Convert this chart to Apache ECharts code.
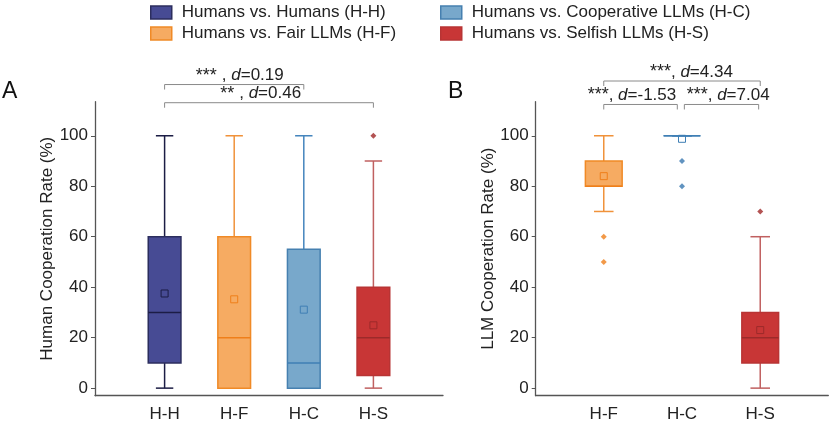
<!DOCTYPE html>
<html>
<head>
<meta charset="utf-8">
<script src="https://cdn.jsdelivr.net/npm/echarts@6/dist/echarts.min.js"></script>
<style>
  html, body { margin: 0; padding: 0; background: #fff; }
  #chart { width: 830px; height: 424px; }
</style>
</head>
<body>
<div id="chart"></div>
<script>
// panel A: human cooperation, panel B: LLM cooperation
const categoriesA = ["H-H", "H-F", "H-C", "H-S"];
const categoriesB = ["H-F", "H-C", "H-S"];
// [min, q1, median, q3, max, mean]
const statsA = [
  [0, 10, 30, 60, 100, 37.5],
  [0, 0, 20, 60, 100, 35.2],
  [0, 0, 10, 55, 100, 31.1],
  [0, 5, 20, 40, 90, 24.9],
];
const statsB = [
  [70, 80, 80, 90, 100, 84],
  [100, 100, 100, 100, 100, 98.8],
  [0, 10, 20, 30, 60, 23],
];
const outliersA = [[], [], [], [100]];
const outliersB = [[60, 50], [90, 80], [70]];
const yTicks = [0, 20, 40, 60, 80, 100];

// brackets: [from, to, y, labelX, stars, d]
const bracketsA = [
  [1, 3, 120.3, 2.08, "*** ", "0.19"],
  [1, 4, 113.1, 2.38, "** ", "0.46"],
];
const bracketsB = [
  [1, 3, 121.7, 2.12, "***", "4.34"],
  [1, 1.94, 112.4, 1.36, "***", "-1.53"],
  [2.03, 2.98, 112.4, 2.59, "***", "7.04"],
];

const FONT = "Liberation Sans, Arial, Helvetica, sans-serif";

const groups = {
  "H-H": { name: "Humans vs. Humans (H-H)", fill: "#474b94", border: "#2c2e5e", line: "#1c1d45", mid: "#1c1d45", dot: "#1c1d45" },
  "H-F": { name: "Humans vs. Fair LLMs (H-F)", fill: "#f6ab62", border: "#f08a26", line: "#f0923a", mid: "#ef7f1a", dot: "#ef7f1a" },
  "H-C": { name: "Humans vs. Cooperative LLMs (H-C)", fill: "#78a8cb", border: "#4680b0", line: "#4585bd", mid: "#3f7fb5", dot: "#3a78b0" },
  "H-S": { name: "Humans vs. Selfish LLMs (H-S)", fill: "#c83636", border: "#b83434", line: "#c06060", mid: "#9c2a2a", dot: "#a02828" },
};

function boxRenderer(g) {
  return function (params, api) {
    const x = api.value(0);
    const lo = api.coord([x, api.value(1)]);
    const q1 = api.coord([x, api.value(2)]);
    const md = api.coord([x, api.value(3)]);
    const q3 = api.coord([x, api.value(4)]);
    const hi = api.coord([x, api.value(5)]);
    const mn = api.coord([x, api.value(6)]);
    const hw = api.size([0.47, 0])[0] / 2;
    const cw = api.size([0.25, 0])[0] / 2;
    const cx = lo[0];
    const ln = { stroke: g.line, lineWidth: 1.5 };
    return {
      type: "group",
      children: [
        { type: "line", shape: { x1: cx, y1: hi[1], x2: cx, y2: q3[1] }, style: ln },
        { type: "line", shape: { x1: cx, y1: q1[1], x2: cx, y2: lo[1] }, style: ln },
        { type: "line", shape: { x1: cx - cw, y1: hi[1], x2: cx + cw, y2: hi[1] }, style: ln },
        { type: "line", shape: { x1: cx - cw, y1: lo[1], x2: cx + cw, y2: lo[1] }, style: ln },
        {
          type: "rect",
          shape: { x: cx - hw, y: q3[1], width: hw * 2, height: q1[1] - q3[1] },
          style: { fill: g.fill, stroke: g.border, lineWidth: 1.5 },
        },
        { type: "line", shape: { x1: cx - hw, y1: md[1], x2: cx + hw, y2: md[1] }, style: { stroke: g.mid, lineWidth: 1.5 } },
        {
          type: "rect",
          shape: { x: cx - 3.5, y: mn[1] - 3.5, width: 7, height: 7 },
          style: { fill: "none", stroke: g.mid, lineWidth: 1 },
        },
      ],
    };
  };
}

function bracketRenderer(params, api) {
  const a = api.coord([api.value(0), api.value(2)]);
  const b = api.coord([api.value(1), api.value(2)]);
  const t = api.coord([api.value(3), api.value(2)]);
  const row = this[params.dataIndexInside];
  const st = { stroke: "#8a8a8a", lineWidth: 1 };
  return {
    type: "group",
    children: [
      { type: "line", shape: { x1: a[0], y1: a[1], x2: b[0], y2: b[1] }, style: st },
      { type: "line", shape: { x1: a[0], y1: a[1], x2: a[0], y2: a[1] + 5 }, style: st },
      { type: "line", shape: { x1: b[0], y1: b[1], x2: b[0], y2: b[1] + 5 }, style: st },
      {
        type: "text",
        x: t[0],
        y: t[1],
        style: {
          text: "{s|" + row[4] + "}, {i|d}=" + row[5],
          align: "center",
          verticalAlign: "bottom",
          fontSize: 17,
          fontFamily: FONT,
          fill: "#222",
          rich: {
            s: { fontSize: 18, fontFamily: FONT, fill: "#222" },
            i: { fontSize: 17, fontFamily: FONT, fontStyle: "italic", fill: "#222" },
          },
        },
      },
    ],
  };
}

function buildPanel(cats, stats, outliers, brackets, gridIndex) {
  const out = [];
  cats.forEach((code, i) => {
    const g = groups[code];
    out.push({
      type: "custom",
      name: g.name,
      xAxisIndex: gridIndex,
      yAxisIndex: gridIndex,
      clip: false,
      renderItem: boxRenderer(g),
      encode: { x: 0, y: [1, 2, 3, 4, 5, 6] },
      data: [[i + 1].concat(stats[i])],
      z: 2,
    });
    if (outliers[i].length) {
      out.push({
        type: "scatter",
        name: g.name,
        xAxisIndex: gridIndex,
        yAxisIndex: gridIndex,
        symbol: "diamond",
        symbolSize: 6,
        itemStyle: { color: g.dot },
        data: outliers[i].map((v) => [i + 1, v]),
        z: 3,
      });
    }
  });
  out.push({
    type: "custom",
    xAxisIndex: gridIndex,
    yAxisIndex: gridIndex,
    clip: false,
    silent: true,
    renderItem: bracketRenderer.bind(brackets),
    encode: { x: [0, 1, 3], y: 2 },
    data: brackets.map((b) => b.slice(0, 4)),
    z: 4,
  });
  return out;
}

function yAxis(gridIndex, name) {
  return {
    type: "value",
    gridIndex,
    min: -3,
    max: 113.5,
    name,
    nameLocation: "middle",
    nameGap: 38,
    nameTextStyle: { fontSize: 17, color: "#222", fontFamily: FONT },
    axisLine: { show: true, onZero: false, lineStyle: { color: "#555", width: 1.3 } },
    axisTick: { show: true, length: 4, customValues: yTicks, lineStyle: { color: "#555" } },
    axisLabel: { customValues: yTicks, fontSize: 17, color: "#222", margin: 7, fontFamily: FONT },
    splitLine: { show: false },
  };
}

function xAxis(gridIndex, cats, min, max) {
  return {
    type: "value",
    gridIndex,
    min,
    max,
    axisLine: { show: true, onZero: false, lineStyle: { color: "#555", width: 1.3 } },
    axisTick: { show: false },
    axisLabel: {
      customValues: cats.map((c, i) => i + 1),
      formatter: (v) => cats[Math.round(v) - 1] || "",
      fontSize: 17,
      color: "#222",
      margin: 10,
      fontFamily: FONT,
    },
    splitLine: { show: false },
  };
}

function legendItem(code) {
  const g = groups[code];
  return { name: g.name, itemStyle: { color: g.fill, borderColor: g.border, borderWidth: 1.5 } };
}

const legendText = { fontSize: 17, color: "#222", fontFamily: FONT, lineHeight: 17, padding: [0, 0, 0, 5] };

const chart = echarts.init(document.getElementById("chart"));
chart.setOption({
  animation: false,
  grid: [
    { left: 95, top: 101.7, width: 348, height: 294 },
    { left: 535.7, top: 101.7, width: 292.6, height: 294 },
  ],
  legend: [
    {
      orient: "vertical", left: 150, top: 4, padding: 0, itemWidth: 21, itemHeight: 13, itemGap: 4,
      icon: "rect", textStyle: legendText, selectedMode: false,
      data: [legendItem("H-H"), legendItem("H-F")],
    },
    {
      orient: "vertical", left: 440, top: 4, padding: 0, itemWidth: 21, itemHeight: 13, itemGap: 4,
      icon: "rect", textStyle: legendText, selectedMode: false,
      data: [legendItem("H-C"), legendItem("H-S")],
    },
  ],
  xAxis: [xAxis(0, categoriesA, 0, 5), xAxis(1, categoriesB, 0.13, 3.87)],
  yAxis: [yAxis(0, "Human Cooperation Rate (%)"), yAxis(1, "LLM Cooperation Rate (%)")],
  graphic: [
    { type: "text", left: 2, top: 80, style: { text: "A", fontSize: 23, fill: "#111", fontFamily: FONT } },
    { type: "text", left: 448, top: 80, style: { text: "B", fontSize: 23, fill: "#111", fontFamily: FONT } },
  ],
  series: buildPanel(categoriesA, statsA, outliersA, bracketsA, 0)
    .concat(buildPanel(categoriesB, statsB, outliersB, bracketsB, 1)),
});
</script>
</body>
</html>
